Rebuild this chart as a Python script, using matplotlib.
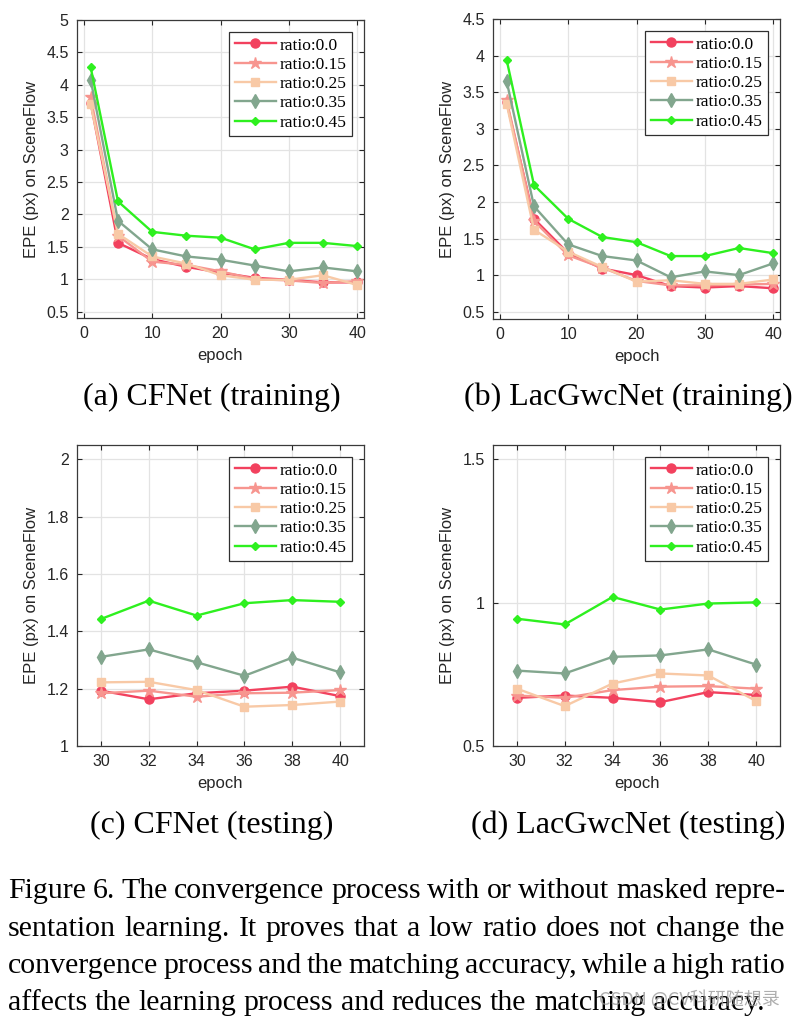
import matplotlib
matplotlib.use("Agg")
import matplotlib.pyplot as plt
from matplotlib.ticker import FuncFormatter, MultipleLocator

plt.rcParams['font.family'] = ['Liberation Sans', 'DejaVu Sans']

labels = ["ratio:0.0", "ratio:0.15", "ratio:0.25", "ratio:0.35", "ratio:0.45"]
colors = ["#f2415e", "#f7958f", "#f8c9a6", "#82a68e", "#2ef01f"]
markers = ["o", "*", "s", "d", "D"]
msizes = [6.5, 9, 6, 7, 4.5]

train_epochs = [1, 5, 10, 15, 20, 25, 30, 35, 40]
test_epochs = [30, 32, 34, 36, 38, 40]

# (a) CFNet training
cf_train_00 = [3.72, 1.56, 1.31, 1.19, 1.10, 1.02, 0.99, 0.95, 0.95]
cf_train_15 = [3.81, 1.67, 1.27, 1.22, 1.12, 1.00, 0.98, 0.94, 0.97]
cf_train_25 = [3.70, 1.70, 1.35, 1.24, 1.06, 0.99, 0.99, 1.06, 0.91]
cf_train_35 = [4.08, 1.90, 1.46, 1.35, 1.30, 1.21, 1.12, 1.18, 1.12]
cf_train_45 = [4.27, 2.20, 1.73, 1.67, 1.64, 1.46, 1.56, 1.56, 1.51]

# (b) LacGwcNet training
lac_train_00 = [3.36, 1.77, 1.30, 1.09, 1.00, 0.85, 0.83, 0.85, 0.82]
lac_train_15 = [3.39, 1.74, 1.27, 1.10, 0.92, 0.86, 0.86, 0.87, 0.88]
lac_train_25 = [3.34, 1.62, 1.32, 1.11, 0.91, 0.93, 0.88, 0.88, 0.94]
lac_train_35 = [3.65, 1.94, 1.42, 1.26, 1.20, 0.97, 1.05, 1.00, 1.16]
lac_train_45 = [3.94, 2.23, 1.77, 1.52, 1.45, 1.26, 1.26, 1.37, 1.30]

# (c) CFNet testing
cf_test_00 = [1.193, 1.163, 1.184, 1.193, 1.207, 1.174]
cf_test_15 = [1.184, 1.193, 1.172, 1.184, 1.186, 1.195]
cf_test_25 = [1.222, 1.224, 1.195, 1.137, 1.143, 1.155]
cf_test_35 = [1.311, 1.337, 1.292, 1.245, 1.308, 1.257]
cf_test_45 = [1.443, 1.507, 1.455, 1.498, 1.509, 1.503]

# (d) LacGwcNet testing
lac_test_00 = [0.668, 0.676, 0.668, 0.653, 0.688, 0.678]
lac_test_15 = [0.676, 0.668, 0.695, 0.707, 0.709, 0.700]
lac_test_25 = [0.700, 0.639, 0.718, 0.753, 0.746, 0.657]
lac_test_35 = [0.763, 0.753, 0.811, 0.816, 0.837, 0.784]
lac_test_45 = [0.944, 0.924, 1.020, 0.976, 0.997, 1.001]

sub_titles = ["(a) CFNet (training)", "(b) LacGwcNet (training)",
              "(c) CFNet (testing)", "(d) LacGwcNet (testing)"]

caption = [
    "Figure 6. The convergence process with or without masked repre-",
    "sentation learning.  It proves that a low ratio does not change the",
    "convergence process and the matching accuracy, while a high ratio",
    "affects the learning process and reduces the matching accuracy.",
]

W, H = 797, 1018
fig = plt.figure(figsize=(W / 100, H / 100), dpi=100)


def px_axes(l, r, t, b):
    return fig.add_axes([l / W, 1 - b / H, (r - l) / W, (b - t) / H])


panels = [
    (px_axes(77, 364, 20, 318), train_epochs,
     [cf_train_00, cf_train_15, cf_train_25, cf_train_35, cf_train_45],
     (-1, 41), (0.4, 5.0), 10, 0.5),
    (px_axes(493, 780, 19, 319), train_epochs,
     [lac_train_00, lac_train_15, lac_train_25, lac_train_35, lac_train_45],
     (-1, 41), (0.4, 4.5), 10, 0.5),
    (px_axes(77, 364, 445, 746), test_epochs,
     [cf_test_00, cf_test_15, cf_test_25, cf_test_35, cf_test_45],
     (29, 41), (1.0, 2.05), 2, 0.2),
    (px_axes(493, 780, 445, 746), test_epochs,
     [lac_test_00, lac_test_15, lac_test_25, lac_test_35, lac_test_45],
     (29, 41), (0.5, 1.55), 2, 0.5),
]

for ax, xs, series, xl, yl, xstep, ystep in panels:
    for i, ys in enumerate(series):
        ax.plot(xs, ys, color=colors[i], marker=markers[i], markersize=msizes[i],
                lw=1.7, label=labels[i])
    ax.set_xlim(*xl)
    ax.set_ylim(*yl)
    ax.xaxis.set_major_locator(MultipleLocator(xstep))
    ax.yaxis.set_major_locator(MultipleLocator(ystep))
    ax.yaxis.set_major_formatter(FuncFormatter(lambda v, p: "%g" % round(v, 3)))
    ax.grid(True, color="#e3e3e3", lw=0.9)
    ax.set_axisbelow(True)
    ax.tick_params(direction="in", top=True, right=True, length=3.5, width=0.8,
                   labelsize=11.5, colors="#262626", pad=6)
    for s in ax.spines.values():
        s.set_color("#3a3a3a")
        s.set_linewidth(0.9)
    ax.set_xlabel("epoch", fontsize=12, color="#262626", labelpad=5)
    ax.set_ylabel("EPE (px) on SceneFlow", fontsize=12, color="#262626", labelpad=5)
    leg = ax.legend(loc="upper right", prop={"family": "Liberation Serif", "size": 12.5},
                    frameon=True, fancybox=False, edgecolor="#303030",
                    framealpha=1, labelspacing=0.18, handlelength=2.4,
                    handletextpad=0.2, borderpad=0.3, borderaxespad=0.7)
    leg.get_frame().set_linewidth(0.9)

sub_pos = [(212, 397), (628, 397), (212, 825), (628, 825)]
for (x, y), t in zip(sub_pos, sub_titles):
    fig.text(x / W, 1 - y / H, t, ha="center", va="center",
             family="Liberation Serif", fontsize=23)

# caption, justified line by line
renderer = fig.canvas.get_renderer()
x0, x1 = 8, 785
cap_size = 21.5
line_y = [891, 929, 966, 1003]
for li, line in enumerate(caption):
    words = [w for w in line.split(" ") if w != ""]
    texts = [fig.text(0, 1 - line_y[li] / H, w, va="center", ha="left",
                      family="Liberation Serif", fontsize=cap_size) for w in words]
    widths = [t.get_window_extent(renderer).width for t in texts]
    if li < len(caption) - 1:
        gap = (x1 - x0 - sum(widths)) / (len(words) - 1)
    else:
        gap = cap_size * 0.25 * 100 / 72
    x = x0
    for t, w in zip(texts, widths):
        t.set_x(x / W)
        x += w + gap

fig.text(780 / W, 1 - 999 / H, "CSDN @CV科研随想录", ha="right", va="center",
         color="#9a9a9a", alpha=0.8, fontsize=13,
         family=["Noto Sans CJK SC", "DejaVu Sans"])

fig.savefig("out.png", dpi=100)
